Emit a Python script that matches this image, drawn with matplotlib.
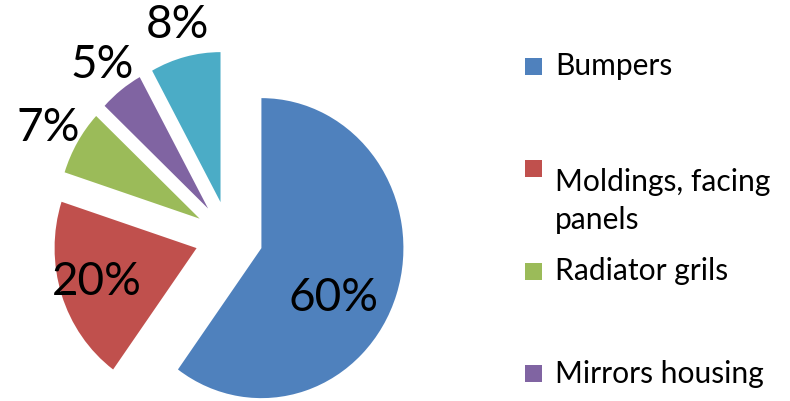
import numpy as np
import matplotlib.pyplot as plt
from matplotlib.patches import Rectangle

# shares of each part (percent)
categories = ["Bumpers", "Moldings, facing\npanels", "Radiator grils", "Mirrors housing", "Other"]
shares = [60, 20, 7, 5, 8]
colors = ["#4F81BD", "#C0504D", "#9BBB59", "#8064A2", "#4BACC6"]

# label placement (fraction of radius, extra angle in degrees)
label_dist = [0.84, 0.98, 1.465, 1.455, 1.457]
label_shift = [-11, 0, 0.9, 0, 0]

plt.rcParams['font.family'] = ['Lato', 'DejaVu Sans']

fig = plt.figure(figsize=(7.9, 4.01), dpi=100)
ax = fig.add_axes([0, 0, 1, 1])

# the excel pie is a bit squashed sideways
sx = 142 / 150
R = 150
cx, cy = 229 / sx, 401 - 237
wedges, _ = ax.pie(shares, colors=colors, startangle=90, counterclock=False,
                   explode=[36] * len(shares), radius=R, center=(cx, cy),
                   frame=True, wedgeprops=dict(linewidth=0))

# percent labels
for w, s, d, sh in zip(wedges, shares, label_dist, label_shift):
    mid = np.deg2rad((w.theta1 + w.theta2) / 2 + sh)
    ax.text(cx + d * R * np.cos(mid), cy + d * R * np.sin(mid), "%d%%" % s,
            fontsize=33, ha="center", va="center", color="black")

ax.set_xlim(0, 790 / sx)
ax.set_ylim(0, 401)
ax.set_aspect("auto")
ax.axis("off")

# legend drawn by hand, Excel style (square aligned with first line)
top = 401 - 66
step = 102.5
for i, (name, c) in enumerate(zip(categories, colors)):
    y = top - i * step
    if y < 10:
        continue  # falls below the chart area
    ax.add_patch(Rectangle((525 / sx, y - 8.5), 17 / sx, 17, color=c, linewidth=0))
    ax.text(555 / sx, y, name, fontsize=21.6, ha="left", va="top" if "\n" in name else "center",
            color="black", linespacing=1.4)

fig.savefig("out.png", dpi=100)
